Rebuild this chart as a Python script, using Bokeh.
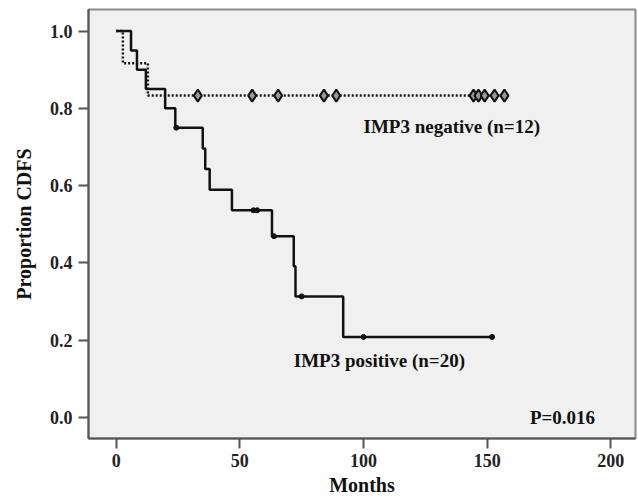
from bokeh.plotting import figure
from bokeh.models import Label, FixedTicker, NumeralTickFormatter, Range1d
from bokeh.embed import file_html
from bokeh.resources import INLINE

# IMP3 positive (n=20): step times (months) and survival proportion
pos_t = [0, 6, 8.4, 12, 19.8, 23.9, 35, 36, 37.8, 46.8, 63, 71.8, 72.5, 91.8, 152]
pos_s = [1.0, 0.95, 0.90, 0.85, 0.80, 0.75, 0.696, 0.643, 0.589, 0.536, 0.469, 0.391, 0.313, 0.208, 0.208]
pos_cens_t = [24.3, 55.5, 57.0, 63.8, 75.0, 100.0, 152.0]
pos_cens_s = [0.75, 0.536, 0.536, 0.469, 0.313, 0.208, 0.208]

# IMP3 negative (n=12)
neg_t = [0, 2.7, 12.8, 157]
neg_s = [1.0, 0.917, 0.833, 0.833]
neg_cens_t = [33, 55, 65.5, 84, 89, 144.5, 146.5, 149, 153, 157]
neg_cens_s = [0.833] * 10

x_ticks = [0, 50, 100, 150, 200]
y_ticks = [0.0, 0.2, 0.4, 0.6, 0.8, 1.0]

FONT = "Liberation Serif"

p = figure(width=638, height=498, output_backend="svg", toolbar_location=None,
           x_range=Range1d(-11.2, 210), y_range=Range1d(-0.055, 1.056),
           min_border_left=88, min_border_right=3, min_border_top=9, min_border_bottom=50)

p.background_fill_color = "#f0f0f0"
p.border_fill_color = "white"
p.outline_line_color = "#8a8a8a"
p.outline_line_width = 2
p.xgrid.visible = False
p.ygrid.visible = False

for ax in (p.xaxis[0], p.yaxis[0]):
    ax.axis_line_color = "#555555"
    ax.axis_line_width = 2
    ax.major_tick_line_color = "#555555"
    ax.major_tick_line_width = 2
    ax.major_tick_out = 10
    ax.major_tick_in = 0
    ax.minor_tick_line_color = None
    ax.major_label_text_font = FONT
    ax.major_label_text_font_style = "bold"
    ax.major_label_text_font_size = "18px"
    ax.major_label_text_color = "#222222"
    ax.axis_label_text_font = FONT
    ax.axis_label_text_font_style = "bold"
    ax.axis_label_text_font_size = "20px"
    ax.axis_label_text_color = "#111111"

p.xaxis.ticker = FixedTicker(ticks=x_ticks)
p.yaxis.ticker = FixedTicker(ticks=y_ticks)
p.yaxis.formatter = NumeralTickFormatter(format="0.0")
p.xaxis.axis_label = "Months"
p.yaxis.axis_label = "Proportion CDFS"
p.xaxis.major_label_standoff = 5
p.yaxis.major_label_standoff = 6
p.xaxis.axis_label_standoff = 4
p.yaxis.axis_label_standoff = 12

# negative (dotted)
p.step(neg_t, neg_s, mode="after", line_color="#111111", line_width=2.5, line_dash="2 2")
p.scatter(neg_cens_t, neg_cens_s, marker="diamond", size=12, line_color="#111111",
          line_width=2, fill_color="#9a9a9a")

# positive (solid)
p.step(pos_t, pos_s, mode="after", line_color="#111111", line_width=2.5)
p.scatter(pos_cens_t, pos_cens_s, marker="circle", size=5, line_color="#111111",
          fill_color="#111111")

def lab(x, y, t):
    p.add_layout(Label(x=x, y=y, text=t, text_font=FONT, text_font_style="bold",
                       text_font_size="19px", text_color="#111111",
                       text_baseline="middle"))

lab(100, 0.752, "IMP3 negative (n=12)")
lab(71.8, 0.147, "IMP3 positive (n=20)")
lab(167.3, 0.0, "P=0.016")

open("out.html", "w").write(file_html(p, INLINE))
